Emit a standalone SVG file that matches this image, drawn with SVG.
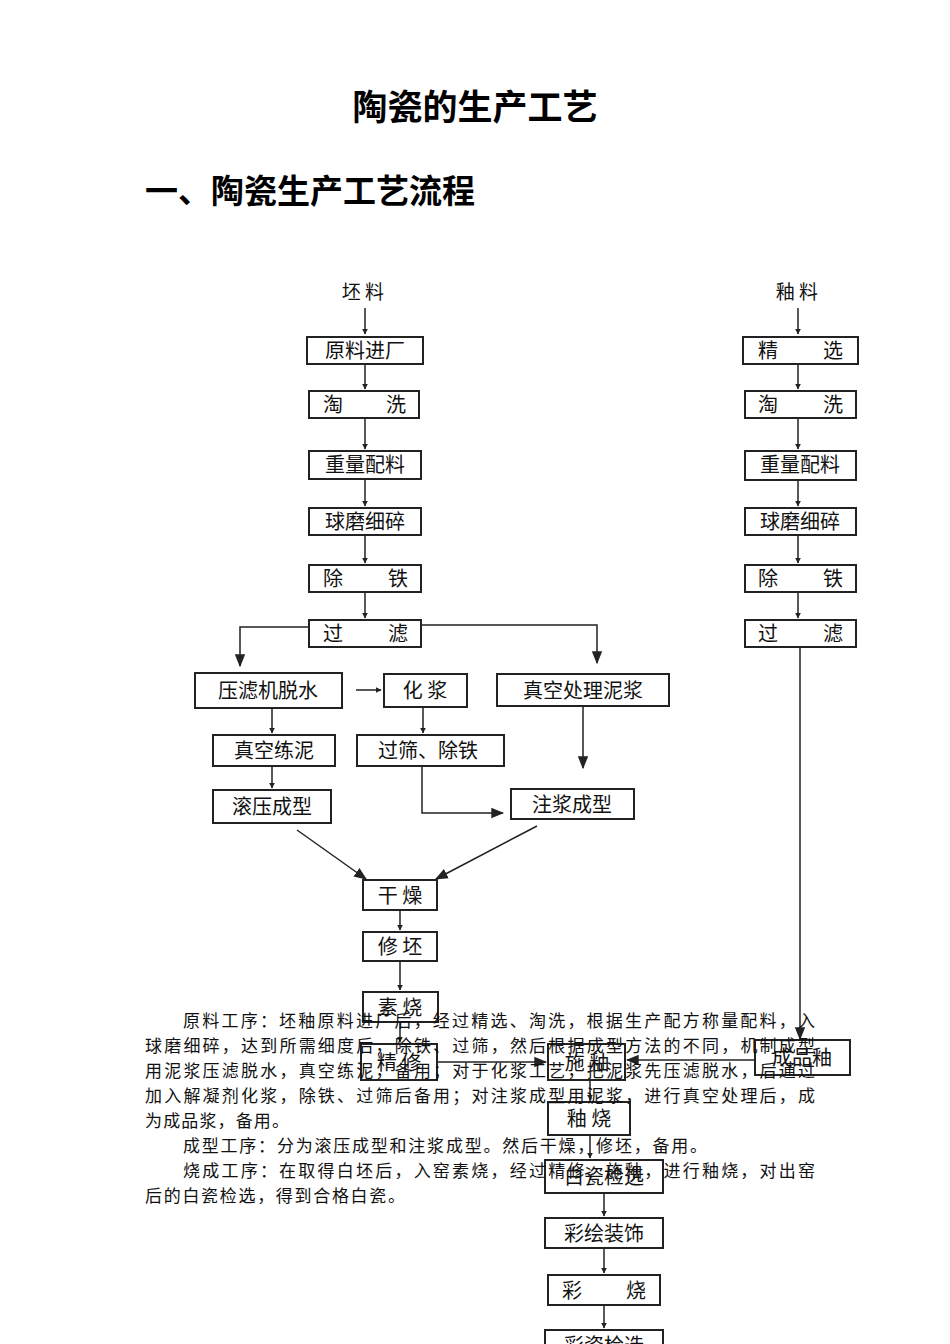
<svg xmlns="http://www.w3.org/2000/svg" width="950" height="1344" viewBox="0 0 950 1344">
<defs>
<marker id="ah" viewBox="0 0 10 10" refX="9" refY="5" markerWidth="6" markerHeight="6" orient="auto" markerUnits="userSpaceOnUse"><path d="M0,0 L10,5 L0,10 z" fill="#222"/></marker>
<marker id="ahb" viewBox="0 0 10 10" refX="9" refY="5" markerWidth="13" markerHeight="13" orient="auto" markerUnits="userSpaceOnUse"><path d="M0,1 L10,5 L0,9 z" fill="#222"/></marker>
</defs>
<style>
.b{fill:#fff;stroke:#222;stroke-width:2}
.t{font-family:"Noto Sans CJK SC",sans-serif;font-size:20px;fill:#111;text-anchor:middle}
.l{font-family:"Noto Sans CJK SC",sans-serif;font-size:19px;fill:#111;text-anchor:middle}
.c line,.c path{stroke:#222;stroke-width:1.5;fill:none}
.p{font-family:"Noto Sans CJK SC",sans-serif;font-size:17px;fill:#111}
.h{font-family:"Noto Sans CJK SC",sans-serif;font-weight:bold;fill:#000}
</style>
<rect width="950" height="1344" fill="#fff"/>
<text class="h" x="475" y="120" font-size="35" text-anchor="middle">陶瓷的生产工艺</text>
<text class="h" x="145" y="203" font-size="33">一、陶瓷生产工艺流程</text>

<g class="c">
<line x1="365" y1="308" x2="365" y2="334" marker-end="url(#ah)"/>
<line x1="365" y1="364" x2="365" y2="389" marker-end="url(#ah)"/>
<line x1="365" y1="418" x2="365" y2="449" marker-end="url(#ah)"/>
<line x1="365" y1="479" x2="365" y2="506" marker-end="url(#ah)"/>
<line x1="365" y1="535" x2="365" y2="563" marker-end="url(#ah)"/>
<line x1="365" y1="592" x2="365" y2="618" marker-end="url(#ah)"/>
<path d="M309,627 H240 V666" marker-end="url(#ahb)"/>
<path d="M421,625 H597 V663" marker-end="url(#ahb)"/>
<line x1="356" y1="690" x2="381" y2="690" marker-end="url(#ah)"/>
<line x1="272" y1="708" x2="272" y2="733" marker-end="url(#ah)"/>
<line x1="423" y1="707" x2="423" y2="733" marker-end="url(#ah)"/>
<line x1="272" y1="766" x2="272" y2="788" marker-end="url(#ah)"/>
<line x1="583" y1="707" x2="583" y2="768" marker-end="url(#ahb)"/>
<path d="M422,766 V813 H503" marker-end="url(#ahb)"/>
<line x1="297" y1="830" x2="366" y2="879" marker-end="url(#ahb)"/>
<line x1="537" y1="826" x2="436" y2="879" marker-end="url(#ahb)"/>
<line x1="400" y1="910" x2="400" y2="930" marker-end="url(#ah)"/>
<line x1="400" y1="961" x2="400" y2="990" marker-end="url(#ah)"/>
<line x1="400" y1="1022" x2="400" y2="1042" marker-end="url(#ah)"/>
<line x1="437" y1="1062" x2="546" y2="1062" marker-end="url(#ahb)"/>
<line x1="755" y1="1060" x2="627" y2="1060" marker-end="url(#ahb)"/>
<line x1="798" y1="308" x2="798" y2="334" marker-end="url(#ah)"/>
<line x1="798" y1="364" x2="798" y2="389" marker-end="url(#ah)"/>
<line x1="798" y1="418" x2="798" y2="449" marker-end="url(#ah)"/>
<line x1="798" y1="480" x2="798" y2="506" marker-end="url(#ah)"/>
<line x1="798" y1="535" x2="798" y2="563" marker-end="url(#ah)"/>
<line x1="798" y1="592" x2="798" y2="618" marker-end="url(#ah)"/>
<line x1="800" y1="647" x2="800" y2="1039" marker-end="url(#ahb)"/>
<line x1="590" y1="1080" x2="590" y2="1100" marker-end="url(#ah)"/>
<line x1="590" y1="1135" x2="590" y2="1158" marker-end="url(#ah)"/>
<line x1="604" y1="1193" x2="604" y2="1216" marker-end="url(#ah)"/>
<line x1="604" y1="1248" x2="604" y2="1273" marker-end="url(#ah)"/>
<line x1="604" y1="1305" x2="604" y2="1328" marker-end="url(#ah)"/>
</g>

<g id="pizhi"><text class="l" x="363" y="299">坯 料</text></g>
<g id="youliao"><text class="l" x="797" y="299">釉 料</text></g>
<g id="n1"><rect class="b" x="307" y="337" width="116" height="27"/><text class="t" x="365" y="358">原料进厂</text></g>
<g id="n2"><rect class="b" x="309" y="391" width="110" height="27"/><text class="t" x="333" y="412">淘</text><text class="t" x="396" y="412">洗</text></g>
<g id="n3"><rect class="b" x="309" y="451" width="112" height="28"/><text class="t" x="365" y="472">重量配料</text></g>
<g id="n4"><rect class="b" x="309" y="508" width="112" height="27"/><text class="t" x="365" y="529">球磨细碎</text></g>
<g id="n5"><rect class="b" x="309" y="565" width="112" height="27"/><text class="t" x="333" y="586">除</text><text class="t" x="398" y="586">铁</text></g>
<g id="n6"><rect class="b" x="309" y="620" width="112" height="27"/><text class="t" x="333" y="641">过</text><text class="t" x="398" y="641">滤</text></g>
<g id="n7"><rect class="b" x="195" y="673" width="147" height="35"/><text class="t" x="268" y="698">压滤机脱水</text></g>
<g id="n8"><rect class="b" x="384" y="674" width="83" height="33"/><text class="t" x="425" y="698">化  浆</text></g>
<g id="n9"><rect class="b" x="497" y="674" width="172" height="32"/><text class="t" x="583" y="698">真空处理泥浆</text></g>
<g id="n10"><rect class="b" x="213" y="735" width="122" height="31"/><text class="t" x="274" y="758">真空练泥</text></g>
<g id="n11"><rect class="b" x="357" y="735" width="147" height="31"/><text class="t" x="428" y="758">过筛、除铁</text></g>
<g id="n12"><rect class="b" x="213" y="790" width="118" height="33"/><text class="t" x="272" y="814">滚压成型</text></g>
<g id="n13"><rect class="b" x="511" y="789" width="123" height="30"/><text class="t" x="572" y="812">注浆成型</text></g>
<g id="n14"><rect class="b" x="363" y="880" width="74" height="30"/><text class="t" x="400" y="903">干 燥</text></g>
<g id="n15"><rect class="b" x="363" y="932" width="74" height="29"/><text class="t" x="400" y="954">修 坯</text></g>
<g id="n16"><rect class="b" x="363" y="992" width="75" height="30"/><text class="t" x="400" y="1015">素 烧</text></g>
<g id="n17"><rect class="b" x="361" y="1044" width="76" height="36"/><text class="t" x="399" y="1070">精 修</text></g>
<g id="n18"><rect class="b" x="548" y="1044" width="77" height="36"/><text class="t" x="587" y="1070">施 釉</text></g>
<g id="n19"><rect class="b" x="755" y="1040" width="95" height="35"/><text class="t" x="802" y="1065">成品釉</text></g>
<g id="n20"><rect class="b" x="548" y="1102" width="82" height="33"/><text class="t" x="589" y="1126">釉 烧</text></g>
<g id="n21"><rect class="b" x="545" y="1160" width="118" height="33"/><text class="t" x="604" y="1184">白瓷检选</text></g>
<g id="n22"><rect class="b" x="545" y="1218" width="118" height="30"/><text class="t" x="604" y="1241">彩绘装饰</text></g>
<g id="n23"><rect class="b" x="548" y="1275" width="112" height="30"/><text class="t" x="572" y="1298">彩</text><text class="t" x="636" y="1298">烧</text></g>
<g id="n24"><rect class="b" x="545" y="1330" width="118" height="30"/><text class="t" x="604" y="1353">彩瓷检选</text></g>
<g id="r1"><rect class="b" x="743" y="337" width="115" height="27"/><text class="t" x="768" y="358">精</text><text class="t" x="833" y="358">选</text></g>
<g id="r2"><rect class="b" x="745" y="391" width="111" height="27"/><text class="t" x="768" y="412">淘</text><text class="t" x="833" y="412">洗</text></g>
<g id="r3"><rect class="b" x="745" y="451" width="111" height="29"/><text class="t" x="800" y="472">重量配料</text></g>
<g id="r4"><rect class="b" x="745" y="508" width="111" height="27"/><text class="t" x="800" y="529">球磨细碎</text></g>
<g id="r5"><rect class="b" x="745" y="565" width="111" height="27"/><text class="t" x="768" y="586">除</text><text class="t" x="833" y="586">铁</text></g>
<g id="r6"><rect class="b" x="745" y="620" width="111" height="27"/><text class="t" x="768" y="641">过</text><text class="t" x="833" y="641">滤</text></g>

<g id="para">
<text class="p" x="183" y="1027" textLength="632" lengthAdjust="spacing">原料工序：坯釉原料进厂后，经过精选、淘洗，根据生产配方称量配料，入</text>
<text class="p" x="145" y="1052" textLength="670" lengthAdjust="spacing">球磨细碎，达到所需细度后，除铁、过筛，然后根据成型方法的不同，机制成型</text>
<text class="p" x="145" y="1077" textLength="670" lengthAdjust="spacing">用泥浆压滤脱水，真空练泥，备用；对于化浆工艺，把泥浆先压滤脱水，后通过</text>
<text class="p" x="145" y="1102" textLength="670" lengthAdjust="spacing">加入解凝剂化浆，除铁、过筛后备用；对注浆成型用泥浆，进行真空处理后，成</text>
<text class="p" x="145" y="1127" textLength="144" lengthAdjust="spacing">为成品浆，备用。</text>
<text class="p" x="183" y="1152" textLength="524" lengthAdjust="spacing">成型工序：分为滚压成型和注浆成型。然后干燥，修坯，备用。</text>
<text class="p" x="183" y="1177" textLength="632" lengthAdjust="spacing">烧成工序：在取得白坯后，入窑素烧，经过精修、施釉，进行釉烧，对出窑</text>
<text class="p" x="145" y="1202" textLength="260" lengthAdjust="spacing">后的白瓷检选，得到合格白瓷。</text>
</g>
</svg>
